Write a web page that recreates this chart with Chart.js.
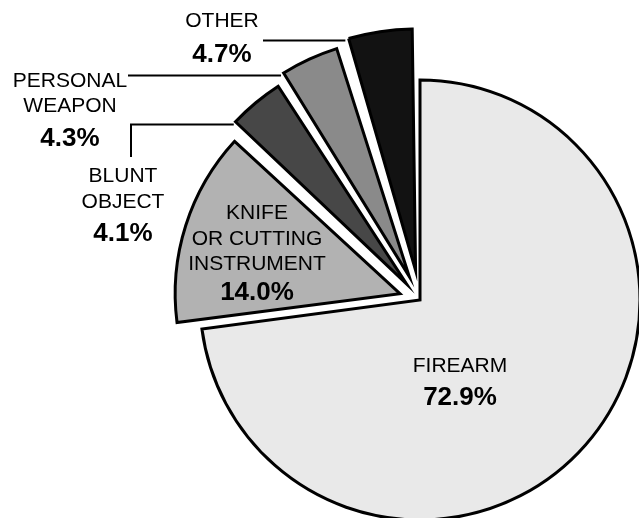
<!DOCTYPE html>
<html>
<head>
<meta charset="utf-8">
<script src="https://cdn.jsdelivr.net/npm/chart.js@4.4.1/dist/chart.umd.min.js"></script>
<style>
  html, body { margin: 0; padding: 0; background: #fff; }
  #wrap { width: 639px; height: 518px; position: relative; }
</style>
</head>
<body>
<div id="wrap"><canvas id="weaponsChart"></canvas></div>
<script>
// weapon categories, clockwise from 12 o'clock
const categories = [
  ['FIREARM'],
  ['KNIFE', 'OR CUTTING', 'INSTRUMENT'],
  ['BLUNT', 'OBJECT'],
  ['PERSONAL', 'WEAPON'],
  ['OTHER']
];
const shares = [72.9, 14.0, 4.1, 4.3, 4.7];

// look
const fills = ['#e9e9e9', '#b2b2b2', '#474747', '#8a8a8a', '#121212'];
const explode = [0, 84, 84, 104, 120];

// where the text sits: centre x and baselines of the name lines, then the percent
const labelPos = [
  { x: 460, lines: [372], pct: 405 },
  { x: 257, lines: [219, 245, 270], pct: 300 },
  { x: 123, lines: [182, 208], pct: 241 },
  { x: 70, lines: [87, 112], pct: 146 },
  { x: 222, lines: [27], pct: 62 }
];
// leader lines: start x of the line, and for blunt object the bottom of the riser
const leaders = [
  null,
  null,
  { x: 131, riseFrom: 157 },
  { x: 128 },
  { x: 263 }
];

const FONT = '"Liberation Sans", Arial, Helvetica, sans-serif';

function arcCorner(arc, angle) {
  const o = (arc.options.offset || 0) / 4;
  const mid = (arc.startAngle + arc.endAngle) / 2;
  const circ = arc.endAngle - arc.startAngle;
  const r = arc.outerRadius + o * (1 - Math.sin(Math.min(Math.PI, circ)));
  const cx = arc.x + Math.cos(mid) * o;
  const cy = arc.y + Math.sin(mid) * o;
  return { x: cx + r * Math.cos(angle), y: cy + r * Math.sin(angle) };
}

const pieLabels = {
  id: 'pieLabels',
  afterDatasetsDraw(chart) {
    const ctx = chart.ctx;
    const arcs = chart.getDatasetMeta(0).data;
    ctx.save();
    ctx.strokeStyle = '#000';
    ctx.lineWidth = 2;
    leaders.forEach((l, i) => {
      if (!l) return;
      const c = arcCorner(arcs[i], arcs[i].startAngle);
      const y = Math.round(c.y) + 0.5;
      ctx.beginPath();
      if (l.riseFrom) {
        ctx.moveTo(l.x, l.riseFrom);
        ctx.lineTo(l.x, y);
      } else {
        ctx.moveTo(l.x, y);
      }
      ctx.lineTo(c.x, y);
      ctx.stroke();
    });
    ctx.fillStyle = '#000';
    ctx.textAlign = 'center';
    ctx.textBaseline = 'alphabetic';
    categories.forEach((name, i) => {
      const p = labelPos[i];
      ctx.font = '21px ' + FONT;
      name.forEach((line, j) => ctx.fillText(line, p.x, p.lines[j]));
      ctx.font = 'bold 26px ' + FONT;
      ctx.fillText(shares[i].toFixed(1) + '%', p.x, p.pct);
    });
    ctx.restore();
  }
};

new Chart(document.getElementById('weaponsChart').getContext('2d'), {
  type: 'pie',
  data: {
    labels: categories,
    datasets: [{
      data: shares,
      backgroundColor: fills,
      borderColor: '#000',
      borderWidth: 3,
      borderJoinStyle: 'miter',
      offset: explode
    }]
  },
  options: {
    responsive: true,
    maintainAspectRatio: false,
    animation: false,
    radius: 220,
    layout: {
      padding: { left: 201, right: 0, top: 82, bottom: 0 }
    },
    plugins: {
      legend: { display: false },
      tooltip: { enabled: false }
    }
  },
  plugins: [pieLabels]
});
</script>
</body>
</html>
